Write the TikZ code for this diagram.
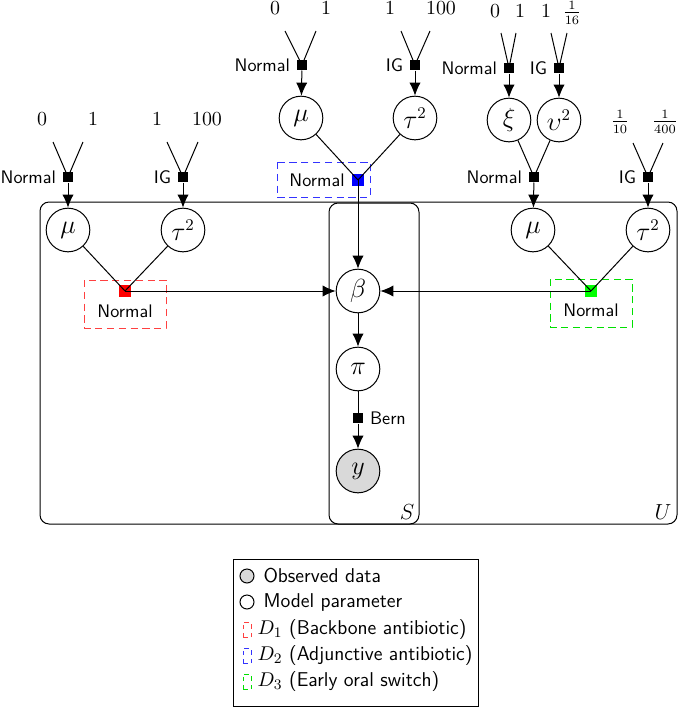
\documentclass[tikz,border=0pt]{standalone}
\usepackage{amsmath}
\usepackage{fontspec}
\usetikzlibrary{arrows.meta}
\begin{document}
\fontsize{10}{12}\selectfont
\begin{tikzpicture}[x=0.55pt,y=-0.55pt,line width=0.55pt,
  latent/.style={circle,draw,minimum size=24pt,inner sep=0pt,font=\fontsize{13.5}{15}\selectfont},
  obs/.style={latent,fill=gray!30},
  fac/.style={rectangle,fill=black,minimum size=5.5pt,inner sep=0pt},
  cfac/.style={rectangle,minimum size=6.6pt,inner sep=0pt},
  arr/.style={-{Latex[length=7.2pt,width=6.2pt]}},
  lab/.style={font=\fontsize{10}{12}\selectfont\sffamily},
  leg/.style={font=\fontsize{11}{13}\selectfont\sffamily,anchor=west,inner sep=0pt},
  num/.style={inner sep=0pt,font=\fontsize{10.5}{12}\selectfont},
  dbox/.style={line width=0.45pt,dash pattern=on 4pt off 2.5pt},
  ldbox/.style={line width=0.4pt,dash pattern=on 2.5pt off 2pt,minimum width=4.4pt,minimum height=8pt,inner sep=0pt},
  plate/.style={draw,rounded corners=5pt}]
\useasboundingbox (0,0) rectangle (685,708);

% ---------------- plates
\draw[plate] (40,202) rectangle (677,524);
\draw[plate] (329,203) rectangle (419,524);
\node[font=\fontsize{11.5}{13}\selectfont] (Ulab) at (663,512) {$U$};
\node[font=\fontsize{11.5}{13}\selectfont] (Slab) at (407,512) {$S$};

% ---------------- left group
\node[num] (l0) at (42,119) {$0$};
\node[num] (l1) at (93,119) {$1$};
\node[num] (l2) at (157,119) {$1$};
\node[num] (l3) at (207,119) {$100$};
\coordinate (la) at (53,142);
\coordinate (lb) at (83,142);
\coordinate (lc) at (167,142);
\coordinate (ld) at (198,142);
\node[fac,label={[lab]left:Normal}] (fmuL) at (68,177) {};
\node[fac,label={[lab]left:IG}] (ftauL) at (183,177) {};
\node[latent] (muL) at (68,230) {$\mu$};
\node[latent] (tauL) at (183,230) {$\tau^2$};
\draw (la) -- (fmuL.center) (lb) -- (fmuL.center);
\draw (lc) -- (ftauL.center) (ld) -- (ftauL.center);
\draw[arr] (fmuL) -- (muL);
\draw[arr] (ftauL) -- (tauL);
\draw[red!75,dbox] (84,280) rectangle (166,328);
\node[cfac,fill=red] (fL) at (125,291) {};
\node[lab] (nL) at (125,311) {Normal};
\draw (muL) -- (fL.center) (tauL) -- (fL.center);

% ---------------- middle group
\node[num] (m0) at (275,8) {$0$};
\node[num] (m1) at (326,8) {$1$};
\node[num] (m2) at (390,8) {$1$};
\node[num] (m3) at (441,8) {$100$};
\coordinate (ma) at (285,31);
\coordinate (mb) at (316,31);
\coordinate (mc) at (401,31);
\coordinate (md) at (430,31);
\node[fac,label={[lab]left:Normal}] (fmuM) at (302,65) {};
\node[fac,label={[lab]left:IG}] (ftauM) at (415,65) {};
\node[latent] (muM) at (301,118) {$\mu$};
\node[latent] (tauM) at (415,118) {$\tau^2$};
\draw (ma) -- (fmuM.center) (mb) -- (fmuM.center);
\draw (mc) -- (ftauM.center) (md) -- (ftauM.center);
\draw[arr] (fmuM) -- (muM);
\draw[arr] (ftauM) -- (tauM);
\draw[blue!80,dbox] (277,162) rectangle (370,197);
\node[cfac,fill=blue] (fM) at (358,180) {};
\node[lab] (nM) at (317,180) {Normal};
\draw (muM) -- (fM.center) (tauM) -- (fM.center);

% ---------------- right group
\node[num] (r0) at (495,11) {$0$};
\node[num] (r1) at (520,11) {$1$};
\node[num] (r2) at (546,11) {$1$};
\node[num] (r3) at (572,13) {$\frac{1}{16}$};
\coordinate (ra) at (501,33);
\coordinate (rb) at (516,33);
\coordinate (rc) at (551,33);
\coordinate (rd) at (567,33);
\node[fac,label={[lab]left:Normal}] (fxi) at (509,68) {};
\node[fac,label={[lab]left:IG}] (fups) at (559,68) {};
\node[latent] (xi) at (509,120) {$\xi$};
\node[latent] (ups) at (559,120) {$\upsilon^2$};
\draw (ra) -- (fxi.center) (rb) -- (fxi.center);
\draw (rc) -- (fups.center) (rd) -- (fups.center);
\draw[arr] (fxi) -- (xi);
\draw[arr] (fups) -- (ups);
\node[fac,label={[lab]left:Normal}] (fmuR) at (534,177) {};
\draw (xi) -- (fmuR.center) (ups) -- (fmuR.center);
\node[num] (r4) at (620,122) {$\frac{1}{10}$};
\node[num] (r5) at (665,122) {$\frac{1}{400}$};
\coordinate (re) at (633,143);
\coordinate (rf) at (663,143);
\node[fac,label={[lab]left:IG}] (ftauR) at (648,177) {};
\draw (re) -- (ftauR.center) (rf) -- (ftauR.center);
\node[latent] (muR) at (533,230) {$\mu$};
\node[latent] (tauR) at (648,230) {$\tau^2$};
\draw[arr] (fmuR) -- (muR);
\draw[arr] (ftauR) -- (tauR);
\draw[green!80!black!60!green,dbox] (550,279) rectangle (632,327);
\node[cfac,fill=green] (fR) at (591,291) {};
\node[lab] (nR) at (591,310) {Normal};
\draw (muR) -- (fR.center) (tauR) -- (fR.center);

% ---------------- centre chain
\node[latent] (beta) at (358,291) {$\beta$};
\node[latent] (pi) at (358,369) {$\pi$};
\node[fac,label={[lab]right:Bern}] (fbern) at (358,418) {};
\node[obs] (y) at (358,471) {$y$};
\draw[arr] (fL.center) -- (beta);
\draw[arr] (fR.center) -- (beta);
\draw[arr] (fM.center) -- (beta);
\draw[arr] (beta) -- (pi);
\draw (pi) -- (fbern);
\draw[arr] (fbern) -- (y);

% ---------------- legend
\draw[line width=0.5pt] (233,559) rectangle (478,706);
\node[circle,draw,fill=gray!30,minimum size=7.7pt,inner sep=0pt] (legobs) at (247,576) {};
\node[leg] (legobst) at (263,576) {Observed data};
\node[circle,draw,minimum size=7.7pt,inner sep=0pt] (legpar) at (247,602) {};
\node[leg] (legpart) at (263,602) {Model parameter};
\node[draw=red!75,ldbox] (legd1) at (247,630) {};
\node[leg] (legd1t) at (257,630) {$D_1$ (Backbone antibiotic)};
\node[draw=blue!80,ldbox] (legd2) at (247,656) {};
\node[leg] (legd2t) at (257,656) {$D_2$ (Adjunctive antibiotic)};
\node[draw=green!80!black!60!green,ldbox] (legd3) at (247,682) {};
\node[leg] (legd3t) at (257,682) {$D_3$ (Early oral switch)};
\end{tikzpicture}
\end{document}
